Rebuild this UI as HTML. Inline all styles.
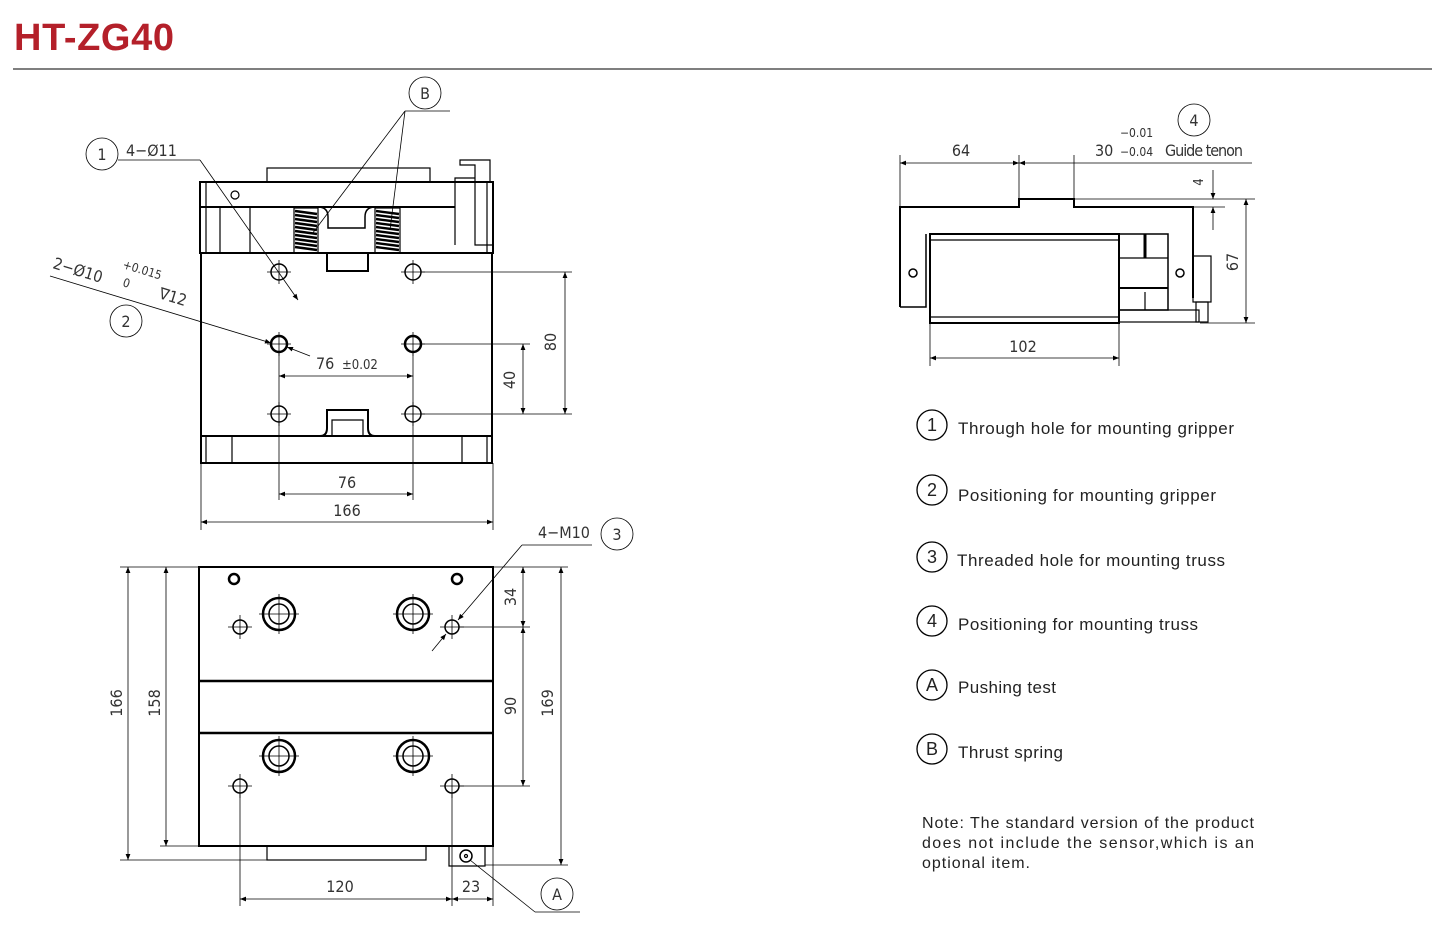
<!DOCTYPE html>
<html><head><meta charset="utf-8"><style>
body{margin:0;background:#fff;width:1449px;height:945px;overflow:hidden}
svg{display:block}
.d{font-family:"DejaVu Sans Condensed","Liberation Sans Narrow","Liberation Sans",sans-serif;fill:#333;font-size:16px}
.l{font-family:"Liberation Sans",sans-serif;fill:#222;font-size:17px}
</style></head><body>
<svg width="1449" height="945" viewBox="0 0 1449 945" xmlns="http://www.w3.org/2000/svg">
<defs>
<marker id="a" viewBox="0 0 10 10" refX="10" refY="5" markerWidth="12" markerHeight="6" orient="auto-start-reverse" markerUnits="userSpaceOnUse"><path d="M0,1 L10,5 L0,9z" fill="#000"/></marker>
</defs>
<text x="14" y="50" font-family="Liberation Sans,sans-serif" font-weight="bold" font-size="38" fill="#b4202a" textLength="160">HT-ZG40</text>
<line x1="13" y1="69" x2="1432" y2="69" stroke="#555" stroke-width="1.5"/>

<g fill="none" stroke="#000" stroke-width="1.2">
<!-- TOP VIEW -->
<rect x="267" y="168" width="163" height="14"/>
<rect x="200" y="182" width="293" height="71" stroke-width="2"/>
<line x1="200" y1="207" x2="455" y2="207" stroke-width="2"/>
<line x1="206" y1="182" x2="206" y2="253"/><line x1="220" y1="207" x2="220" y2="253"/><line x1="250" y1="207" x2="250" y2="253"/>
<line x1="487" y1="182" x2="487" y2="253"/>
<circle cx="235" cy="195" r="4"/>
<path d="M318,207 Q328,207 328,217 L328,228 L365,228 L365,217 Q365,207 375,207" stroke-width="1.5"/>
<rect x="294" y="208" width="24" height="45"/><rect x="375" y="208" width="25" height="45"/>
<g stroke-width="2.4">
<path d="M295,211 L317,214 M295,215 L317,218 M295,219 L317,222 M295,223 L317,226 M295,227 L317,230 M295,231 L317,234 M295,235 L317,238 M295,239 L317,242 M295,243 L317,246 M295,247 L317,250"/>
<path d="M376,211 L399,214 M376,215 L399,218 M376,219 L399,222 M376,223 L399,226 M376,227 L399,230 M376,231 L399,234 M376,235 L399,238 M376,239 L399,242 M376,243 L399,246 M376,247 L399,250"/>
</g>
<path d="M455,245 L455,178 L475,178 L475,165 L460,165 L460,160 L490,160 L490,182 M475,178 L475,245 L493,245" />
<rect x="201" y="253" width="291" height="183" stroke-width="2"/>
<path d="M327,253 L327,271 L368,271 L368,253" stroke-width="2"/>
<path d="M201,436 L320,436 Q327,436 327,428 L327,410 L368,410 L368,428 Q368,436 375,436 L492,436" stroke-width="2"/>
<path d="M332,436 L332,420 L363,420 L363,436"/>
<rect x="201" y="436" width="291" height="27" stroke-width="2"/>
<line x1="206" y1="436" x2="206" y2="463"/><line x1="232" y1="436" x2="232" y2="463"/><line x1="462" y1="436" x2="462" y2="463"/><line x1="487" y1="436" x2="487" y2="463"/>
<g stroke-width="1.5">
<circle cx="279" cy="272" r="8"/><circle cx="413" cy="272" r="8"/>
<circle cx="279" cy="344" r="8" stroke-width="2.5"/><circle cx="413" cy="344" r="8" stroke-width="2.5"/>
<circle cx="279" cy="414" r="8"/><circle cx="413" cy="414" r="8"/>
</g>
<path d="M267,272h24M279,260v24M401,272h24M413,260v24M267,344h24M279,332v24M401,344h24M413,332v24M267,414h24M279,402v24M401,414h24M413,402v24" stroke-width="0.8"/>
<g stroke-width="0.8">
<line x1="421" y1="272" x2="572" y2="272"/><line x1="421" y1="344" x2="530" y2="344"/><line x1="421" y1="414" x2="572" y2="414"/>
<line x1="565" y1="272" x2="565" y2="414" marker-start="url(#a)" marker-end="url(#a)"/>
<line x1="523" y1="344" x2="523" y2="414" marker-start="url(#a)" marker-end="url(#a)"/>
<line x1="279" y1="352" x2="279" y2="500"/><line x1="413" y1="352" x2="413" y2="500"/>
<line x1="279" y1="376" x2="413" y2="376" marker-start="url(#a)" marker-end="url(#a)"/>
<line x1="279" y1="494" x2="413" y2="494" marker-start="url(#a)" marker-end="url(#a)"/>
<line x1="201" y1="463" x2="201" y2="530"/><line x1="493" y1="463" x2="493" y2="530"/>
<line x1="201" y1="522" x2="493" y2="522" marker-start="url(#a)" marker-end="url(#a)"/>
<circle cx="102" cy="154" r="16"/><line x1="118" y1="160" x2="200" y2="160"/>
<line x1="200" y1="160" x2="298" y2="300" marker-end="url(#a)"/>
<circle cx="425" cy="93" r="16"/><line x1="405" y1="111" x2="450" y2="111"/>
<line x1="405" y1="111" x2="312" y2="234"/><line x1="405" y1="111" x2="390" y2="230"/>
<circle cx="126" cy="321" r="16"/>
<line x1="50" y1="276" x2="271" y2="343" marker-end="url(#a)"/>
<line x1="310" y1="356" x2="287" y2="347" marker-end="url(#a)"/>
</g>

<!-- BOTTOM VIEW -->
<rect x="199" y="567" width="294" height="279" stroke-width="2"/>
<line x1="199" y1="681" x2="493" y2="681" stroke-width="2.5"/>
<line x1="199" y1="733" x2="493" y2="733" stroke-width="2.5"/>
<rect x="267" y="846" width="159" height="14"/>
<path d="M449,846 L449,866 L485,866 L485,846"/>
<circle cx="466" cy="856" r="6" stroke-width="1.5"/><circle cx="466" cy="856" r="1.5"/>
<circle cx="234" cy="579" r="5" stroke-width="2.5"/><circle cx="457" cy="579" r="5" stroke-width="2.5"/>
<g stroke-width="2.5"><circle cx="279" cy="614" r="16"/><circle cx="413" cy="614" r="16"/><circle cx="279" cy="756" r="16"/><circle cx="413" cy="756" r="16"/></g>
<g stroke-width="1.5"><circle cx="279" cy="614" r="10"/><circle cx="413" cy="614" r="10"/><circle cx="279" cy="756" r="10"/><circle cx="413" cy="756" r="10"/>
<circle cx="240" cy="627" r="7"/><circle cx="452" cy="627" r="7"/><circle cx="240" cy="786" r="7"/><circle cx="452" cy="786" r="7"/></g>
<path d="M259,614h40M279,594v40M393,614h40M413,594v40M259,756h40M279,736v40M393,756h40M413,736v40M228,627h24M240,615v24M440,627h24M452,615v24M228,786h24M240,774v24M440,786h24M452,774v24" stroke-width="0.8"/>
<g stroke-width="0.8">
<line x1="120" y1="567" x2="568" y2="567"/><line x1="120" y1="860" x2="267" y2="860"/><line x1="160" y1="846" x2="199" y2="846"/>
<line x1="485" y1="865" x2="568" y2="865"/>
<line x1="128" y1="567" x2="128" y2="860" marker-start="url(#a)" marker-end="url(#a)"/>
<line x1="166" y1="567" x2="166" y2="846" marker-start="url(#a)" marker-end="url(#a)"/>
<line x1="459" y1="627" x2="530" y2="627"/><line x1="459" y1="786" x2="530" y2="786"/>
<line x1="523" y1="567" x2="523" y2="627" marker-start="url(#a)" marker-end="url(#a)"/>
<line x1="523" y1="627" x2="523" y2="786" marker-start="url(#a)" marker-end="url(#a)"/>
<line x1="561" y1="567" x2="561" y2="865" marker-start="url(#a)" marker-end="url(#a)"/>
<line x1="240" y1="793" x2="240" y2="906"/><line x1="452" y1="793" x2="452" y2="906"/><line x1="493" y1="846" x2="493" y2="906"/>
<line x1="240" y1="899" x2="452" y2="899" marker-start="url(#a)" marker-end="url(#a)"/>
<line x1="452" y1="899" x2="493" y2="899" marker-start="url(#a)" marker-end="url(#a)"/>
<line x1="522" y1="545" x2="458" y2="620" marker-end="url(#a)"/><line x1="522" y1="545" x2="592" y2="545"/>
<line x1="432" y1="651" x2="446" y2="634" marker-end="url(#a)"/>
<circle cx="617" cy="534" r="16"/>
<line x1="470" y1="860" x2="535" y2="912"/><line x1="535" y1="912" x2="580" y2="912"/>
<circle cx="557" cy="894" r="16"/>
</g>

<!-- SIDE VIEW -->
<path d="M900,307 L900,207 L1019,207 L1019,199 L1074,199 L1074,207 L1193,207 L1193,298" stroke-width="2"/>
<path d="M900,307 L926,307 L926,234" stroke-width="1.5"/>
<rect x="930" y="234" width="189" height="89" stroke-width="2"/>
<line x1="930" y1="240" x2="1119" y2="240"/><line x1="930" y1="317" x2="1119" y2="317"/>
<rect x="1119" y="234" width="49" height="76" stroke-width="1.5"/>
<line x1="1145" y1="234" x2="1145" y2="258" stroke-width="3"/>
<line x1="1119" y1="258" x2="1168" y2="258"/><line x1="1119" y1="288" x2="1168" y2="288" stroke-width="2"/>
<line x1="1145" y1="292" x2="1145" y2="310"/>
<rect x="1119" y="310" width="80" height="12"/>
<rect x="1193" y="256" width="18" height="46"/><rect x="1196" y="302" width="12" height="20"/>
<circle cx="913" cy="273" r="4" stroke-width="1.5"/><circle cx="1180" cy="273" r="4" stroke-width="1.5"/>
<g stroke-width="0.8">
<line x1="900" y1="155" x2="900" y2="207"/><line x1="1019" y1="155" x2="1019" y2="199"/><line x1="1074" y1="155" x2="1074" y2="199"/>
<line x1="900" y1="163" x2="1019" y2="163" marker-start="url(#a)" marker-end="url(#a)"/>
<line x1="1019" y1="163" x2="1252" y2="163" marker-start="url(#a)"/>
<line x1="1074" y1="199" x2="1255" y2="199"/><line x1="1193" y1="207" x2="1225" y2="207"/><line x1="1200" y1="323" x2="1255" y2="323"/>
<line x1="1213" y1="170" x2="1213" y2="199" marker-end="url(#a)"/><line x1="1213" y1="230" x2="1213" y2="207" marker-end="url(#a)"/>
<line x1="1246" y1="199" x2="1246" y2="323" marker-start="url(#a)" marker-end="url(#a)"/>
<line x1="930" y1="323" x2="930" y2="366"/><line x1="1119" y1="323" x2="1119" y2="366"/>
<line x1="930" y1="358" x2="1119" y2="358" marker-start="url(#a)" marker-end="url(#a)"/>
<circle cx="1194" cy="120" r="16"/>
</g>
<g stroke-width="1.3"><circle cx="932" cy="425" r="15"/><circle cx="932" cy="490" r="15"/><circle cx="932" cy="557" r="15"/><circle cx="932" cy="621" r="15"/><circle cx="932" cy="685" r="15"/><circle cx="932" cy="749" r="15"/></g>
</g>

<g class="d">
<text x="102" y="160" text-anchor="middle">1</text>
<text x="126" y="156">4−Ø11</text>
<text x="425" y="99" text-anchor="middle">B</text>
<text x="126" y="327" text-anchor="middle">2</text>
<text transform="translate(52,268) rotate(17)">2−Ø10</text>
<text transform="translate(122,268) rotate(17)" font-size="12">+0.015</text>
<text transform="translate(122,286) rotate(17)" font-size="12">0</text>
<text transform="translate(158,298) rotate(17)">∇12</text>
<text x="316" y="369">76</text><text x="342" y="369" font-size="13">±0.02</text>
<text x="347" y="488" text-anchor="middle">76</text>
<text x="347" y="516" text-anchor="middle">166</text>
<text transform="translate(515,380) rotate(-90)" text-anchor="middle">40</text>
<text transform="translate(556,342) rotate(-90)" text-anchor="middle">80</text>
<text x="538" y="538">4−M10</text>
<text x="617" y="540" text-anchor="middle">3</text>
<text transform="translate(122,703) rotate(-90)" text-anchor="middle">166</text>
<text transform="translate(160,703) rotate(-90)" text-anchor="middle">158</text>
<text transform="translate(516,597) rotate(-90)" text-anchor="middle">34</text>
<text transform="translate(516,706) rotate(-90)" text-anchor="middle">90</text>
<text transform="translate(553,703) rotate(-90)" text-anchor="middle">169</text>
<text x="340" y="892" text-anchor="middle">120</text>
<text x="471" y="892" text-anchor="middle">23</text>
<text x="557" y="900" text-anchor="middle">A</text>
<text x="961" y="156" text-anchor="middle">64</text>
<text x="1095" y="156">30</text>
<text x="1120" y="137" font-size="12">−0.01</text>
<text x="1120" y="156" font-size="12">−0.04</text>
<text x="1165" y="156" textLength="78">Guide tenon</text>
<text x="1194" y="126" text-anchor="middle">4</text>
<text transform="translate(1203,182) rotate(-90)" text-anchor="middle" font-size="13">4</text>
<text transform="translate(1238,262) rotate(-90)" text-anchor="middle">67</text>
<text x="1023" y="352" text-anchor="middle">102</text>
</g>
<g class="l">
<text x="932" y="431" text-anchor="middle" font-size="18">1</text>
<text x="932" y="496" text-anchor="middle" font-size="18">2</text>
<text x="932" y="563" text-anchor="middle" font-size="18">3</text>
<text x="932" y="627" text-anchor="middle" font-size="18">4</text>
<text x="932" y="691" text-anchor="middle" font-size="18">A</text>
<text x="932" y="755" text-anchor="middle" font-size="18">B</text>
<text x="958" y="434" textLength="276">Through hole for mounting gripper</text>
<text x="958" y="501" textLength="258">Positioning for mounting gripper</text>
<text x="957" y="566" textLength="268">Threaded hole for mounting truss</text>
<text x="958" y="630" textLength="240">Positioning for mounting truss</text>
<text x="958" y="693" textLength="98">Pushing test</text>
<text x="958" y="758" textLength="105">Thrust spring</text>
<text x="922" y="828" font-size="16" textLength="332">Note: The standard version of the product</text>
<text x="922" y="848" font-size="16" textLength="332">does not include the sensor,which is an</text>
<text x="922" y="868" font-size="16" textLength="108">optional item.</text>
</g>
</svg>
</body></html>
